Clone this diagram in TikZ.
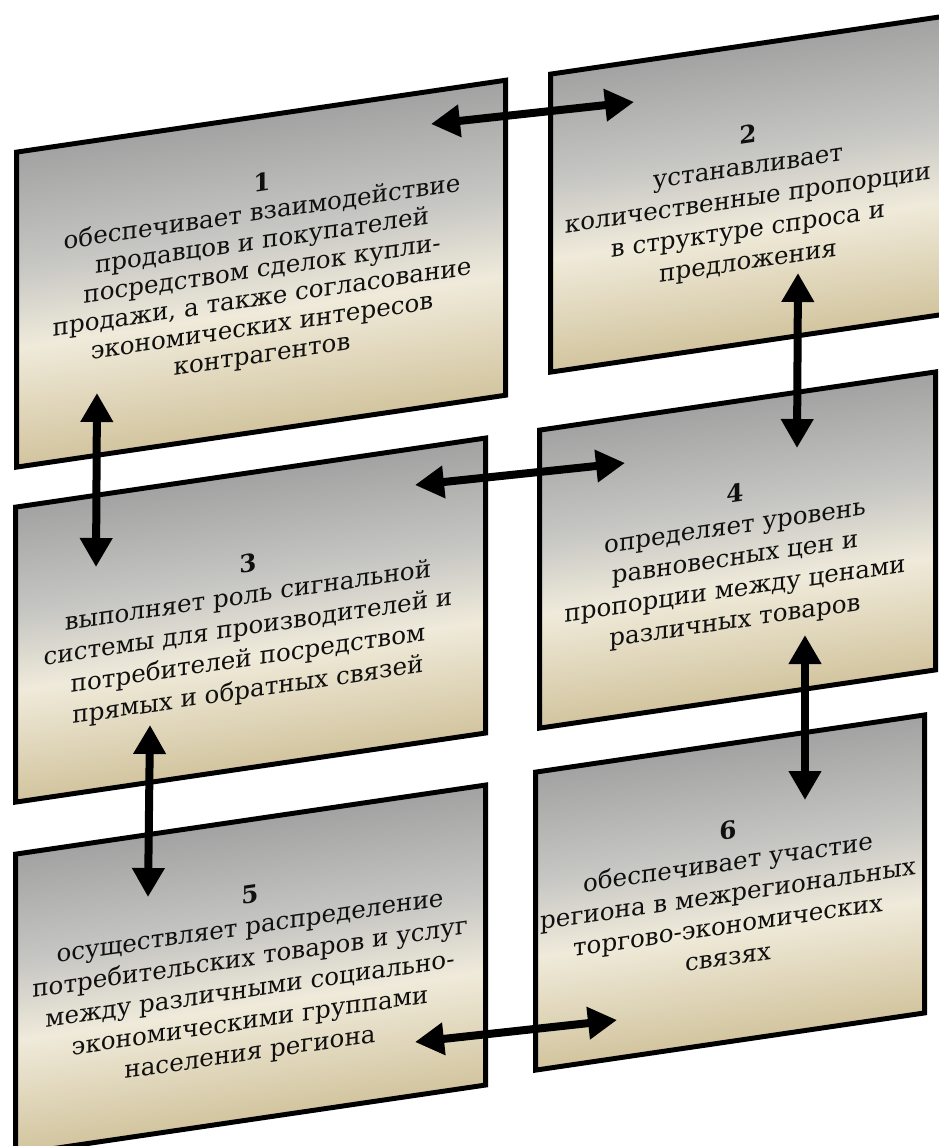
\documentclass[tikz,border=0pt]{standalone}
\usepackage{fontspec}
\newfontfamily\pf{DejaVu Serif}
\usetikzlibrary{arrows.meta}
\definecolor{gtop}{HTML}{A2A2A2}
\definecolor{gmid}{HTML}{C6C6C3}
\definecolor{gcream}{HTML}{EFEADA}
\definecolor{gtan}{HTML}{D2C49E}
\definecolor{txt}{HTML}{101010}
\pgfdeclareverticalshading{panelshade}{100bp}{color(0bp)=(gtan); color(25bp)=(gtan); color(44bp)=(gcream); color(57bp)=(gmid); color(75bp)=(gtop); color(100bp)=(gtop)}
\tikzset{
  panelbox/.style={shade, shading=panelshade, draw=black, line width=5pt, inner sep=0pt, anchor=north west},
  paneltext/.style={align=center, font=\pf\fontsize{24.6}{31.5}\selectfont, text=txt, inner sep=0pt},
  tighttext/.style={paneltext, font=\pf\fontsize{24.6}{28.5}\selectfont},
  dblarrow/.style={line width=8pt, {Triangle[length=29pt,width=31pt]}-{Triangle[length=29pt,width=31pt]}},
}
\newcommand\panel[9]{%
  \begin{scope}[transform canvas={shift={(#2,#3)},yslant=0.147}]
    \node[panelbox, minimum width=#4pt, minimum height=#5pt] (#1) at (0,0) {};
    \node[#9] (#1t) at (#6,#7) {#8};
  \end{scope}}
\begin{document}
\begin{tikzpicture}[x=1pt,y=-1pt]
  \fill[white] (0,0) rectangle (939,1146);
  \useasboundingbox (0,0) rectangle (939,1146);
  \clip (0,0) rectangle (939,1146);
  \panel{p1}{14}{150}{489}{315}{248}{157}{\textbf{1}\\обеспечивает взаимодействие\\продавцов и покупателей\\посредством сделок купли-\\продажи, а также согласование\\экономических интересов\\контрагентов}{tighttext}
  \panel{p2}{548}{72}{396}{298}{200}{157}{\textbf{2}\\устанавливает\\количественные пропорции\\в структуре спроса и\\предложения}{paneltext}
  \panel{p3}{13}{505}{470}{295}{235}{158}{\textbf{3}\\выполняет роль сигнальной\\системы для производителей и\\потребителей посредством\\прямых и обратных связей}{paneltext}
  \panel{p4}{537}{428}{396}{298}{198}{160}{\textbf{4}\\определяет уровень\\равновесных цен и\\пропорции между ценами\\различных товаров}{paneltext}
  \panel{p5}{13}{852}{470}{300}{237}{158}{\textbf{5}\\осуществляет распределение\\потребительских товаров и услуг\\между различными социально-\\экономическими группами\\населения региона}{paneltext}
  \panel{p6}{533}{770}{389}{298}{195}{152}{\textbf{6}\\обеспечивает участие\\региона в межрегиональных\\торгово-экономических\\связях}{paneltext}
  \coordinate (a12s) at (431,124);
  \coordinate (a12e) at (634,102);
  \coordinate (a13s) at (97,393);
  \coordinate (a13e) at (96,567);
  \coordinate (a24s) at (798,273);
  \coordinate (a24e) at (797,448);
  \coordinate (a34s) at (415,485);
  \coordinate (a34e) at (625,463);
  \coordinate (a35s) at (150,725);
  \coordinate (a35e) at (148,897);
  \coordinate (a46s) at (805,635);
  \coordinate (a46e) at (805,800);
  \coordinate (a56s) at (415,1042);
  \coordinate (a56e) at (617,1020);
  \draw[dblarrow] (a12s) -- (a12e);
  \draw[dblarrow] (a13s) -- (a13e);
  \draw[dblarrow] (a24s) -- (a24e);
  \draw[dblarrow] (a34s) -- (a34e);
  \draw[dblarrow] (a35s) -- (a35e);
  \draw[dblarrow] (a46s) -- (a46e);
  \draw[dblarrow] (a56s) -- (a56e);
\end{tikzpicture}
\end{document}
